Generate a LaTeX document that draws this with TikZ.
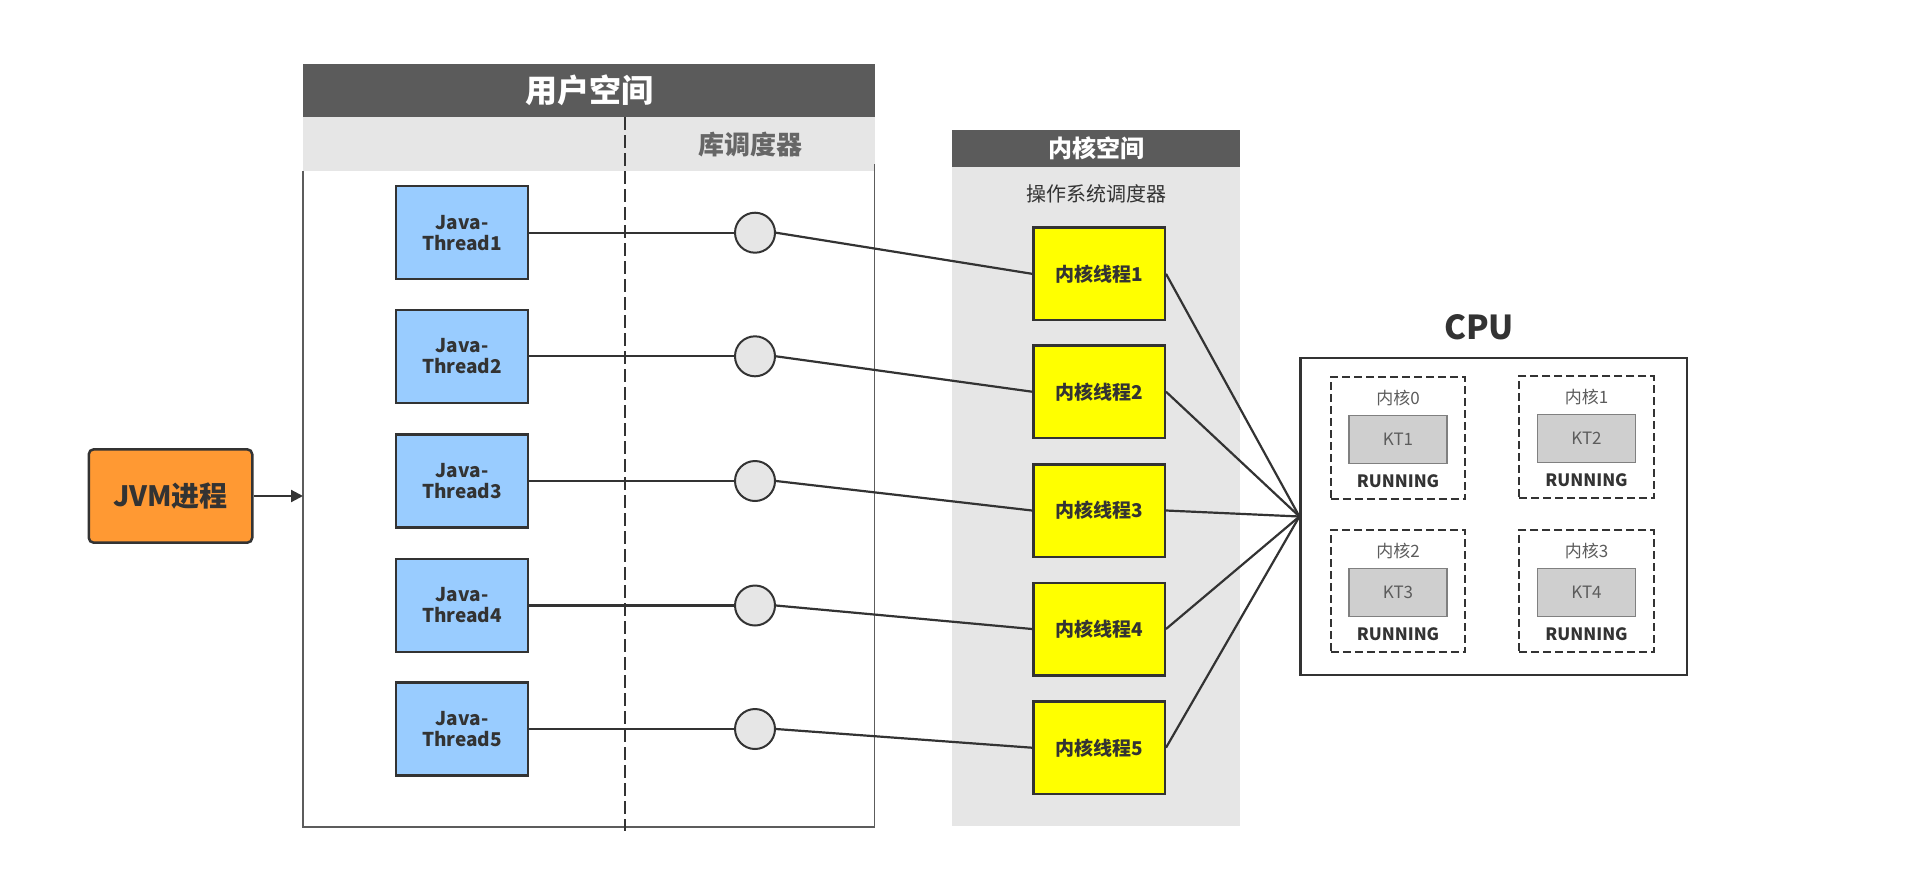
\documentclass[tikz,border=0pt]{standalone}
\usepackage{fontspec}
\setmainfont{Noto Sans CJK SC}
\usetikzlibrary{arrows.meta}
\definecolor{hdr}{HTML}{5B5B5B}
\definecolor{lgray}{HTML}{E6E6E6}
\definecolor{ln}{HTML}{333333}
\definecolor{jblue}{HTML}{99CCFF}
\definecolor{kyel}{HTML}{FFFF00}
\definecolor{jorange}{HTML}{FF9933}
\definecolor{ktgray}{HTML}{CFCFCF}
\newcommand{\fsz}[1]{\fontsize{#1}{#1}\selectfont}
\tikzset{
  jthread/.style={draw=ln, line width=2.5pt, fill=jblue, minimum width=132pt, minimum height=93pt, inner sep=0pt, align=center, font=\fsz{19}\bfseries, text=ln},
  kthread/.style={draw=ln, line width=2.5pt, fill=kyel, minimum width=131.5pt, minimum height=92.5pt, inner sep=0pt, font=\fsz{19}\bfseries, text=ln},
  sched/.style={circle, draw=ln, line width=2pt, fill=lgray, minimum size=40pt, inner sep=0pt},
  conn/.style={draw=ln, line width=2.2pt},
  corebox/.style={draw=ln, line width=2.2pt, dash pattern=on 8pt off 4pt, minimum width=134.5pt, minimum height=122pt, inner sep=0pt},
  ktbox/.style={draw=gray, line width=1.5pt, fill=ktgray, minimum width=98pt, minimum height=48pt, inner sep=0pt, font=\fsz{17}, text=ln!80},
  corelbl/.style={font=\fsz{17}, text=ln!80, inner sep=0pt},
  runlbl/.style={font=\fsz{17}\bfseries, text=ln, inner sep=0pt},
}
\begin{document}
\begin{tikzpicture}[x=1pt,y=-1pt]
\useasboundingbox (0,0) rectangle (1920,892);
% user space
\fill[hdr] (303,64) rectangle (874.5,117);
\node[text=white, font=\fsz{32}\bfseries] (us) at (589,90) {用户空间};
\fill[lgray] (303,117) rectangle (874.5,171);
\draw[draw=ln!80, line width=1.3pt] (303,171) -- (303,827) -- (874.5,827) -- (874.5,164);
\node[text=ln!75, font=\fsz{26}\bfseries] (lib) at (750,145) {库调度器};
\coordinate (dtop) at (624.6,117);
\coordinate (dbot) at (624.6,831);
\draw[ln, line width=2.2pt, dash pattern=on 13pt off 5pt] (dtop) -- (dbot);
% kernel space
\fill[lgray] (952,166.7) rectangle (1240,826);
\fill[hdr] (952,130) rectangle (1240,166.7);
\node[text=white, font=\fsz{24}\bfseries] (ks) at (1096,148) {内核空间};
\node[text=ln, font=\fsz{20}] (os) at (1096,194) {操作系统调度器};
% JVM
\node[draw=ln, line width=2.5pt, fill=jorange, rounded corners=5pt, minimum width=163.5pt, minimum height=93.4pt, font=\fsz{28}\bfseries, text=ln] (jvm) at (170.5,496) {JVM进程};
\coordinate (uin) at (303,496);
\draw[conn, -{Triangle[length=12pt,width=12pt]}] (jvm) -- (uin);
% threads
\foreach \i/\y/\ky in {1/232.7/273.8, 2/356.3/391.7, 3/481/510.5, 4/605.5/629, 5/729/747.7} {
  \node[jthread] (j\i) at (462,\y) {Java-\\[2pt]Thread\i};
  \node[sched] (c\i) at (755,\y) {};
  \node[kthread] (k\i) at (1099,\ky) {内核线程\i};
}
% CPU
\node[font=\fsz{33}\bfseries, text=ln] (cputitle) at (1479,327) {CPU};
\node[draw=ln, line width=2.2pt, fill=white, minimum width=386.5pt, minimum height=317.6pt, inner sep=0pt] (cpu) at (1493.75,516.5) {};
\foreach \n/\cx/\cy/\kt in {0/1398/438/KT1, 1/1586.5/437/KT2, 2/1398/591/KT3, 3/1586.5/591/KT4} {
  \node[corebox] (core\n) at (\cx,\cy) {};
  \node[corelbl] (cl\n) at (\cx,\cy-40) {内核\n};
  \node[ktbox] (kt\n) at (\cx,\cy+1.5) {\kt};
  \node[runlbl] (run\n) at (\cx,\cy+43.5) {RUNNING};
}
% connectors
\foreach \i in {1,...,5} {
  \draw[conn] (j\i.east) -- (c\i.west);
  \draw[conn] (c\i.east) -- (k\i.west);
  \draw[conn] (k\i.east) -- (cpu.west);
}
\end{tikzpicture}
\end{document}
